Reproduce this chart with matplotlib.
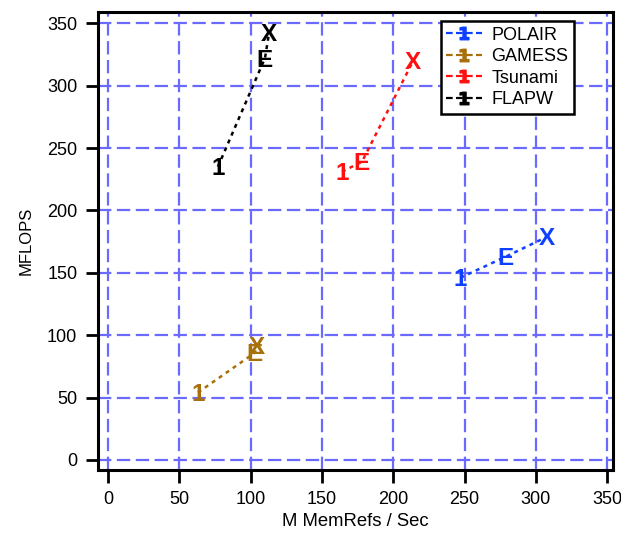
import matplotlib
matplotlib.use("Agg")
import matplotlib.pyplot as plt
from matplotlib.lines import Line2D

plt.rcParams['font.family'] = ['Liberation Sans', 'DejaVu Sans']

series = ["POLAIR", "GAMESS", "Tsunami", "FLAPW"]
colors = ["#1040ff", "#a8700a", "#ff1010", "#000000"]
marker_labels = ["1", "E", "X"]
polair_x = [247, 279, 308]
polair_y = [146, 163, 179]
gamess_x = [63, 103, 104]
gamess_y = [54, 86, 92]
tsunami_x = [164, 178, 214]
tsunami_y = [231, 239, 320]
flapw_x = [77, 110, 113]
flapw_y = [235, 322, 343]
xs = [polair_x, gamess_x, tsunami_x, flapw_x]
ys = [polair_y, gamess_y, tsunami_y, flapw_y]

ticks = [0, 50, 100, 150, 200, 250, 300, 350]

fig = plt.figure(figsize=(6.21, 5.34), dpi=100)
ax = fig.add_axes([0.158, 0.120, 0.829, 0.8575])

msize = 17.5
for name, c, x, y in zip(series, colors, xs, ys):
    ax.plot(x, y, color=c, lw=1.8, linestyle=(0, (1.6, 1.8)), zorder=3)
    for xi, yi, m in zip(x, y, marker_labels):
        ax.annotate(m, (xi, yi), xytext=(0, -msize * 0.716 / 2),
                    textcoords='offset points', ha='center', va='baseline',
                    fontsize=msize, fontweight='bold', color=c, zorder=4)

ax.set_xlim(-7, 354)
ax.set_ylim(-8, 359)
ax.set_xticks(ticks)
ax.set_yticks(ticks)
ax.grid(True, color="#6a6aff", lw=1.6, linestyle=(0, (6, 2.5)), zorder=1)
ax.set_axisbelow(True)

for s in ax.spines.values():
    s.set_linewidth(2.2)
    s.set_color("black")
ax.tick_params(direction='out', length=9, width=2, labelsize=13, pad=6)

ax.set_xlabel("M MemRefs / Sec", fontsize=13.3, labelpad=4)
ax.set_ylabel("MFLOPS", fontsize=12, labelpad=10)

handles = [Line2D([0], [0], color=c, lw=1.6, linestyle=(0, (3, 1.5)),
                  marker=r'$\mathbf{1}$', markersize=9) for c in colors]
leg = ax.legend(handles, series, loc='upper right', bbox_to_anchor=(0.924, 0.98),
                fontsize=13, frameon=True, fancybox=False, framealpha=1,
                edgecolor='black', handlelength=2.0, borderpad=0.3,
                labelspacing=0.25, handletextpad=0.5, borderaxespad=0)
leg.get_frame().set_linewidth(1.8)

fig.savefig("out.png", dpi=100)
